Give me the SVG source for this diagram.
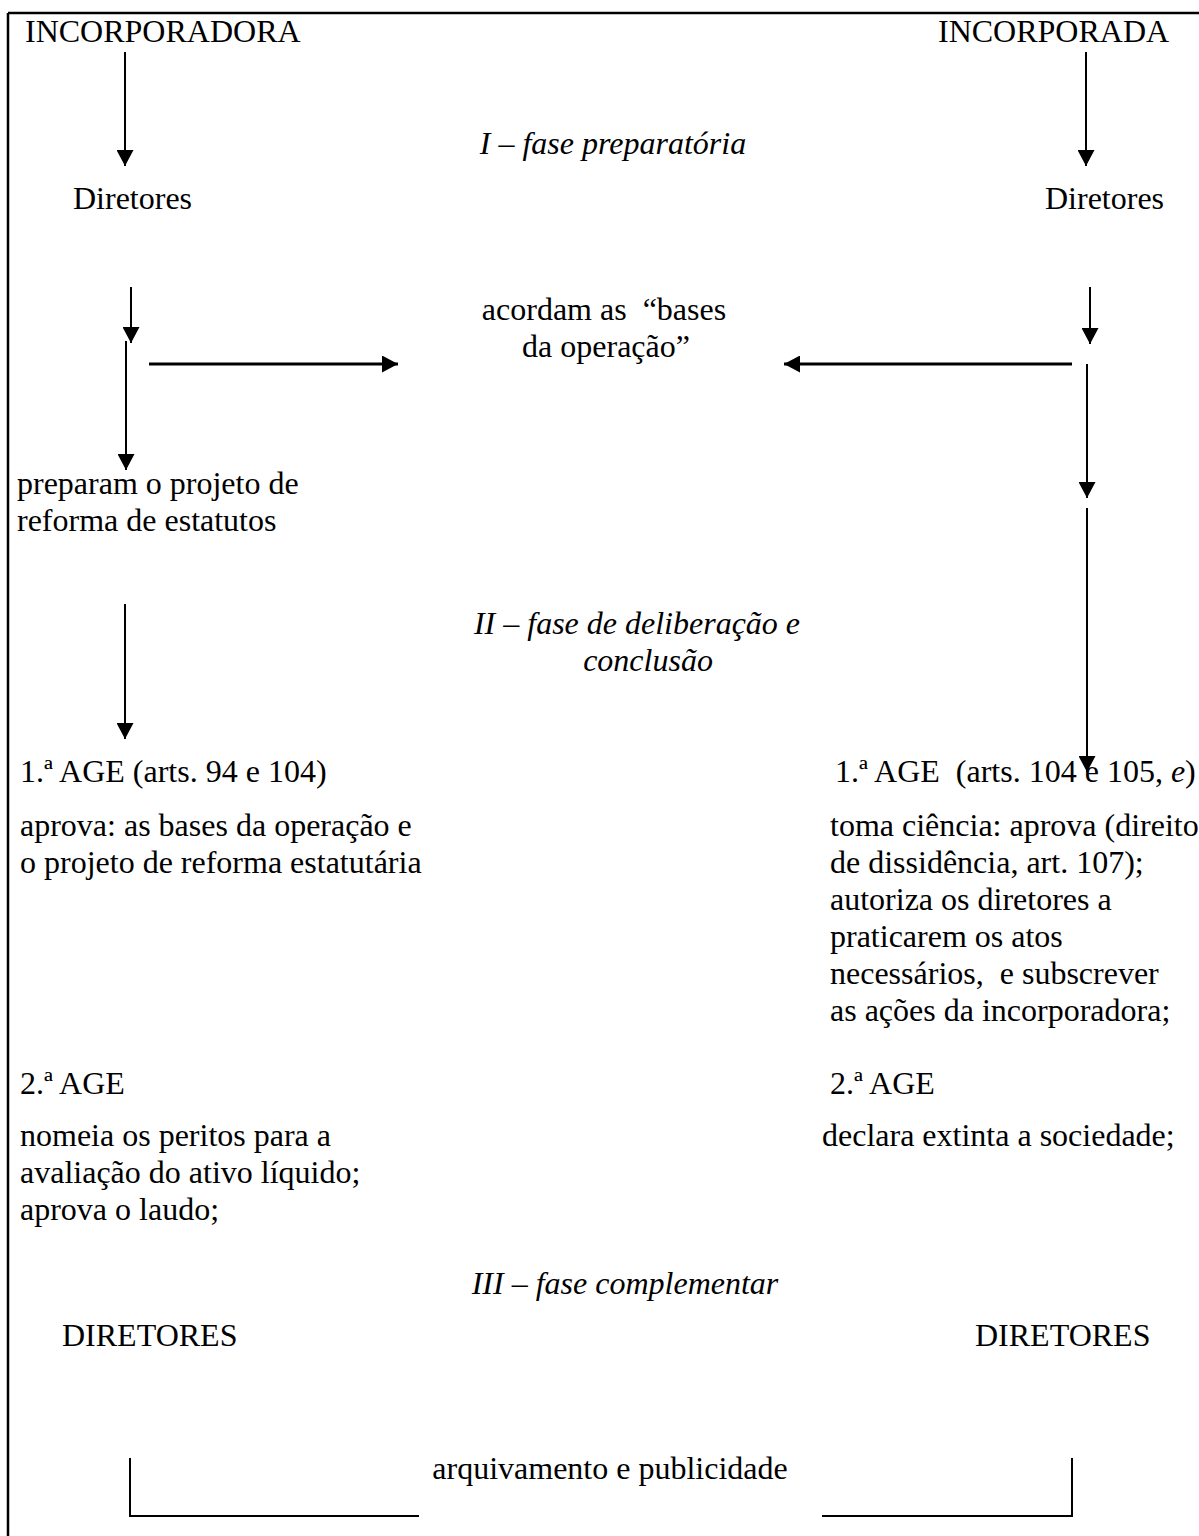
<svg xmlns="http://www.w3.org/2000/svg" width="1199" height="1536" viewBox="0 0 1199 1536">
<style>
text{font-family:"Liberation Serif","Times New Roman",serif;font-size:32px;fill:#000;white-space:pre}
.it{font-style:italic}
.mid{text-anchor:middle}
.ln{stroke:#000;stroke-width:2;fill:none}
.hz{stroke:#000;stroke-width:3;fill:none}
</style>
<defs>
<marker id="ah" viewBox="0 0 16 17" markerWidth="16" markerHeight="17" refX="16" refY="8.5" orient="auto" markerUnits="userSpaceOnUse">
<path d="M0,0 L16,8.5 L0,17 z" fill="#000"/>
</marker>
</defs>
<rect width="1199" height="1536" fill="#fff"/>
<g id="frame">
<line x1="8" y1="13" x2="1199" y2="13" stroke="#000" stroke-width="2.5"/>
<line x1="8" y1="13" x2="8" y2="1536" stroke="#000" stroke-width="2.5"/>
</g>
<g id="connectors">
<line class="ln" x1="125" y1="52" x2="125" y2="166" marker-end="url(#ah)"/>
<line class="ln" x1="1086" y1="52" x2="1086" y2="166" marker-end="url(#ah)"/>
<line class="ln" x1="131" y1="287" x2="131" y2="343" marker-end="url(#ah)"/>
<line class="ln" x1="126" y1="341" x2="126" y2="470" marker-end="url(#ah)"/>
<line class="hz" x1="149" y1="364" x2="398" y2="364" marker-end="url(#ah)"/>
<line class="ln" x1="1090" y1="287" x2="1090" y2="344" marker-end="url(#ah)"/>
<line class="hz" x1="1072" y1="364" x2="784" y2="364" marker-end="url(#ah)"/>
<line class="ln" x1="1087" y1="364" x2="1087" y2="498" marker-end="url(#ah)"/>
<line class="ln" x1="1087" y1="508" x2="1087" y2="772" marker-end="url(#ah)"/>
<line class="ln" x1="125" y1="604" x2="125" y2="739" marker-end="url(#ah)"/>
<polyline class="ln" points="130,1458 130,1516 419,1516"/>
<polyline class="ln" points="822,1516 1072,1516 1072,1458"/>
</g>
<g id="incorporadora"><text x="25" y="42">INCORPORADORA</text></g>
<g id="incorporada"><text x="938" y="42">INCORPORADA</text></g>
<g id="fase1"><text class="it mid" x="613" y="154">I – fase preparatória</text></g>
<g id="diretores-l"><text x="73" y="209">Diretores</text></g>
<g id="diretores-r"><text x="1045" y="209">Diretores</text></g>
<g id="bases">
<text class="mid" x="604" y="320">acordam as  “bases</text>
<text class="mid" x="606" y="357">da operação”</text>
</g>
<g id="preparam">
<text x="17" y="494">preparam o projeto de</text>
<text x="17" y="531">reforma de estatutos</text>
</g>
<g id="fase2">
<text class="it mid" x="637" y="634">II – fase de deliberação e</text>
<text class="it mid" x="648" y="671">conclusão</text>
</g>
<g id="age1-l">
<text x="20" y="782">1.ª AGE (arts. 94 e 104)</text>
<text x="20" y="836">aprova: as bases da operação e</text>
<text x="20" y="873">o projeto de reforma estatutária</text>
</g>
<g id="age1-r">
<text x="835" y="782">1.ª AGE  (arts. 104 e 105, <tspan class="it">e</tspan>)</text>
<text x="830" y="836">toma ciência: aprova (direito</text>
<text x="830" y="873">de dissidência, art. 107);</text>
<text x="830" y="910">autoriza os diretores a</text>
<text x="830" y="947">praticarem os atos</text>
<text x="830" y="984">necessários,  e subscrever</text>
<text x="830" y="1021">as ações da incorporadora;</text>
</g>
<g id="age2-l">
<text x="20" y="1094">2.ª AGE</text>
<text x="20" y="1146">nomeia os peritos para a</text>
<text x="20" y="1183">avaliação do ativo líquido;</text>
<text x="20" y="1220">aprova o laudo;</text>
</g>
<g id="age2-r">
<text x="830" y="1094">2.ª AGE</text>
<text x="822" y="1146">declara extinta a sociedade;</text>
</g>
<g id="fase3"><text class="it mid" x="625" y="1294">III – fase complementar</text></g>
<g id="dir-l"><text x="62" y="1346">DIRETORES</text></g>
<g id="dir-r"><text x="975" y="1346">DIRETORES</text></g>
<g id="arquivamento"><text class="mid" x="610" y="1479">arquivamento e publicidade</text></g>
</svg>
